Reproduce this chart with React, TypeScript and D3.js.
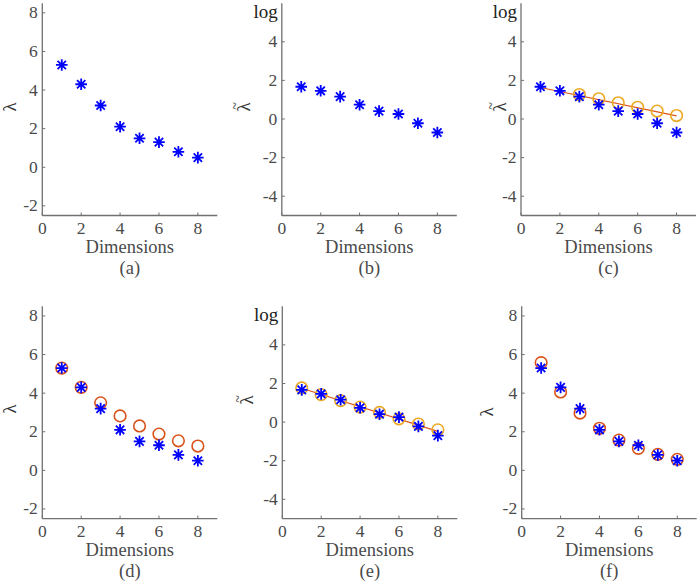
import React from "react";
import * as d3 from "d3";

// ---- data ----
const dims = [1, 2, 3, 4, 5, 6, 7, 8];
const lambdaVals = [5.3, 4.3, 3.2, 2.1, 1.5, 1.3, 0.8, 0.5];
const logLambdaVals = [1.67, 1.46, 1.16, 0.74, 0.41, 0.26, -0.22, -0.7];
const cCircleDims = [3, 4, 5, 6, 7, 8];
const cCircleVals = [1.27, 1.05, 0.84, 0.61, 0.41, 0.18];
const cLineDims = [1, 8];
const cLineVals = [1.63, 0.16];
const dCircleVals = [5.3, 4.3, 3.5, 2.82, 2.3, 1.88, 1.53, 1.26];
const eCircleVals = [1.77, 1.42, 1.11, 0.78, 0.5, 0.17, -0.1, -0.4];
const eLineDims = [1, 8];
const eLineVals = [1.75, -0.48];
const fCircleVals = [5.58, 4.06, 2.97, 2.18, 1.57, 1.14, 0.83, 0.57];

const xTicks = [0, 2, 4, 6, 8];
const linTicks = [-2, 0, 2, 4, 6, 8];
const logTicks = [-4, -2, 0, 2, 4];
const panelLabels = ["(a)", "(b)", "(c)", "(d)", "(e)", "(f)"];

const BLUE = "#0000FF";
const YELLOW = "#EDA822";
const RED = "#D95319";
const AXIS = "#707070";
const TEXT = "#4a4a4a";
const FONT = "Liberation Serif, DejaVu Serif, serif";

type Series = { kind: "star" | "circle" | "line"; xs: number[]; ys: number[]; color: string };
type PanelCfg = {
  left: number;
  top: number;
  bottom: number;
  log: boolean;
  label: string;
  ylabOffset: number;
  ylabY: number;
  series: Series[];
};

const TOP_ROW = { top: 3.2, bottom: 215.5 };
const BOT_ROW = { top: 306.3, bottom: 518.6 };
const W = 175;

const panels: PanelCfg[] = [
  { left: 42.3, ...TOP_ROW, log: false, label: panelLabels[0], ylabOffset: 31, ylabY: 107,
    series: [{ kind: "star", xs: dims, ys: lambdaVals, color: BLUE }] },
  { left: 281.8, ...TOP_ROW, log: true, label: panelLabels[1], ylabOffset: 37, ylabY: 107,
    series: [{ kind: "star", xs: dims, ys: logLambdaVals, color: BLUE }] },
  { left: 521, ...TOP_ROW, log: true, label: panelLabels[2], ylabOffset: 20, ylabY: 107,
    series: [
      { kind: "line", xs: cLineDims, ys: cLineVals, color: RED },
      { kind: "circle", xs: cCircleDims, ys: cCircleVals, color: YELLOW },
      { kind: "star", xs: dims, ys: logLambdaVals, color: BLUE },
    ] },
  { left: 42.3, ...BOT_ROW, log: false, label: panelLabels[3], ylabOffset: 31, ylabY: 409,
    series: [
      { kind: "circle", xs: dims, ys: dCircleVals, color: RED },
      { kind: "star", xs: dims, ys: lambdaVals, color: BLUE },
    ] },
  { left: 282.3, ...BOT_ROW, log: true, label: panelLabels[4], ylabOffset: 34, ylabY: 400,
    series: [
      { kind: "line", xs: eLineDims, ys: eLineVals, color: RED },
      { kind: "circle", xs: dims, ys: eCircleVals, color: YELLOW },
      { kind: "star", xs: dims, ys: logLambdaVals, color: BLUE },
    ] },
  { left: 521.7, ...BOT_ROW, log: false, label: panelLabels[5], ylabOffset: 34, ylabY: 412,
    series: [
      { kind: "circle", xs: dims, ys: fCircleVals, color: RED },
      { kind: "star", xs: dims, ys: lambdaVals, color: BLUE },
    ] },
];

function starPath(r: number) {
  const d = r * 0.72;
  return `M${-r},0H${r}M0,${-r}V${r}M${-d},${-d}L${d},${d}M${-d},${d}L${d},${-d}`;
}

const txt = (size: number, color = TEXT) => ({
  fontFamily: FONT,
  fontSize: size,
  fill: color,
  fontWeight: 400 as const,
});

function Panel({ cfg }: { cfg: PanelCfg }) {
  const x = d3.scaleLinear().domain([0, 9]).range([cfg.left, cfg.left + W]);
  const y = d3
    .scaleLinear()
    .domain(cfg.log ? [-5, 6] : [-2.5, 8.5])
    .range([cfg.bottom, cfg.top]);
  const yTicks = cfg.log ? logTicks : linTicks;
  const cx = cfg.left + W / 2;
  const axisX = cfg.left;

  return (
    <g>
      <line x1={axisX} x2={axisX} y1={cfg.top} y2={cfg.bottom} stroke={AXIS} strokeWidth={1.3} />
      <line x1={axisX} x2={cfg.left + W} y1={cfg.bottom} y2={cfg.bottom} stroke={AXIS} strokeWidth={1.3} />
      {xTicks.map((t) => (
        <g key={"xt" + t}>
          <line x1={x(t)} x2={x(t)} y1={cfg.bottom} y2={cfg.bottom - 3} stroke={AXIS} strokeWidth={1} />
          <text x={x(t)} y={cfg.bottom + 18} textAnchor="middle" style={txt(17.5)}>
            {t}
          </text>
        </g>
      ))}
      {yTicks.map((t) => (
        <g key={"yt" + t}>
          <line x1={axisX} x2={axisX + 3} y1={y(t)} y2={y(t)} stroke={AXIS} strokeWidth={1} />
          <text x={axisX - 4.5} y={y(t) + 5.5} textAnchor="end" style={txt(17.5)}>
            {t < 0 ? "-" + Math.abs(t) : String(t)}
          </text>
        </g>
      ))}
      {cfg.log && (
        <text x={axisX - 4} y={cfg.top + 15} textAnchor="end" style={txt(19, "#222")}>
          log
        </text>
      )}
      <g transform={`translate(${axisX - cfg.ylabOffset},${cfg.ylabY}) rotate(-90)`}>
        <text x={0} y={5} textAnchor="middle" style={txt(19, "#333")}>
          λ
        </text>
        {cfg.log && (
          <text x={1} y={-5} textAnchor="middle" style={txt(14, "#333")}>
            ~
          </text>
        )}
      </g>
      <text x={cx} y={cfg.bottom + 37} textAnchor="middle" style={txt(18.5)}>
        Dimensions
      </text>
      <text x={cx} y={cfg.bottom + 58} textAnchor="middle" style={txt(18.5)}>
        {cfg.label}
      </text>
      {cfg.series.map((s, si) => {
        if (s.kind === "line") {
          const gen = d3
            .line<number>()
            .x((v, i) => x(s.xs[i]))
            .y((v) => y(v));
          return <path key={si} d={gen(s.ys) || ""} fill="none" stroke={s.color} strokeWidth={1.1} />;
        }
        if (s.kind === "circle") {
          return (
            <g key={si}>
              {s.ys.map((v, i) => (
                <circle key={i} cx={x(s.xs[i])} cy={y(v)} r={5.8} fill="none" stroke={s.color} strokeWidth={1.6} />
              ))}
            </g>
          );
        }
        return (
          <g key={si}>
            {s.ys.map((v, i) => (
              <path
                key={i}
                transform={`translate(${x(s.xs[i])},${y(v)})`}
                d={starPath(5.8)}
                fill="none"
                stroke={s.color}
                strokeWidth={1.8}
              />
            ))}
          </g>
        );
      })}
    </g>
  );
}

export default function App() {
  return (
    <svg
      width={700}
      height={584}
      viewBox="0 0 700 584"
      style={{ position: "absolute", left: 0, top: 0, background: "#fff" }}
    >
      <rect x={0} y={0} width={700} height={584} fill="#fff" />
      {panels.map((p, i) => (
        <Panel key={i} cfg={p} />
      ))}
    </svg>
  );
}
